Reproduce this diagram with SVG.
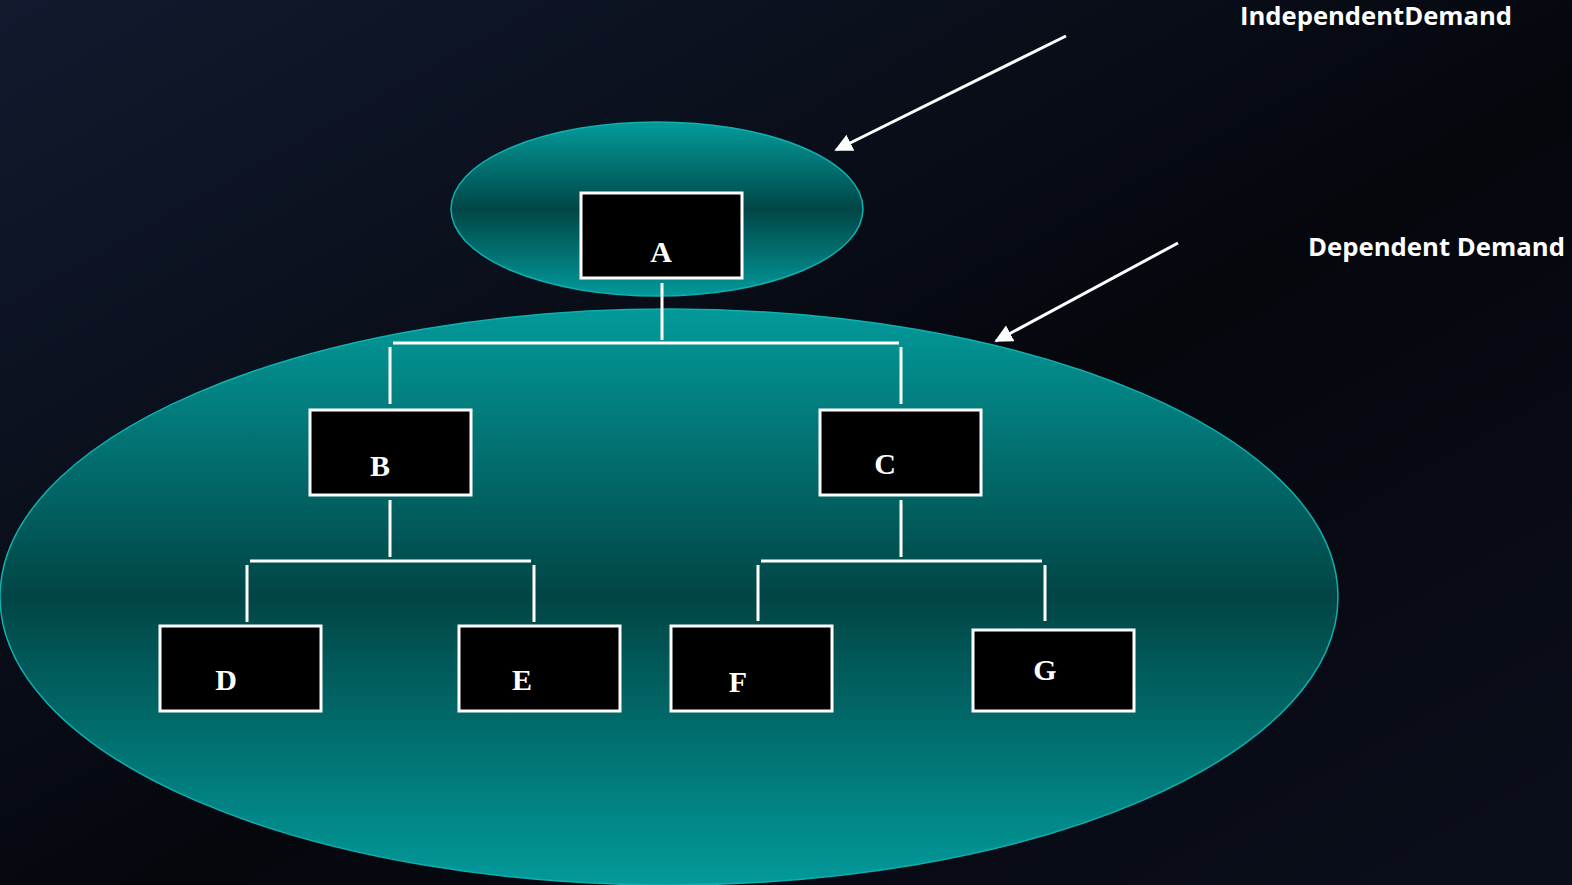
<svg xmlns="http://www.w3.org/2000/svg" width="1572" height="885" viewBox="0 0 1572 885">
<defs>
<linearGradient id="bg" x1="0" y1="0" x2="1" y2="1">
<stop offset="0" stop-color="#111a2e"/>
<stop offset="0.55" stop-color="#05070d"/>
<stop offset="1" stop-color="#0b0f1c"/>
</linearGradient>
<linearGradient id="tealS" x1="0" y1="0" x2="0" y2="1">
<stop offset="0" stop-color="#039c9c"/>
<stop offset="0.5" stop-color="#014646"/>
<stop offset="1" stop-color="#02999a"/>
</linearGradient>
<linearGradient id="tealB" x1="0" y1="0" x2="0" y2="1">
<stop offset="0" stop-color="#039a9a"/>
<stop offset="0.5" stop-color="#014545"/>
<stop offset="1" stop-color="#029a9a"/>
</linearGradient>
<marker id="ah" viewBox="0 0 10 10" refX="9" refY="5" markerWidth="6" markerHeight="6" orient="auto" markerUnits="strokeWidth">
<path d="M0,0 L10,5 L0,10 z" fill="#ffffff"/>
</marker>
<style>
.box{fill:#000000;stroke:#ffffff;stroke-width:3}
.lbl{font-family:"Liberation Serif","Times New Roman",serif;font-weight:bold;font-size:30px;fill:#ffffff;text-anchor:middle}
.con{stroke:#ffffff;stroke-width:3;fill:none}
.arr{stroke:#ffffff;stroke-width:3;fill:none;marker-end:url(#ah)}
.cap{font-family:"Open Sans","Liberation Sans",sans-serif;font-weight:bold;font-size:25px;fill:#ffffff}
</style>
</defs>
<rect x="0" y="0" width="1572" height="885" fill="url(#bg)"/>
<g id="dependent-region">
<ellipse cx="669" cy="597" rx="669" ry="288" fill="url(#tealB)" stroke="#0fb0ae" stroke-width="1.5"/>
</g>
<g id="independent-region">
<ellipse cx="657" cy="209" rx="206" ry="87" fill="url(#tealS)" stroke="#0fb0ae" stroke-width="1.5"/>
</g>
<g id="connectors">
<line class="con" x1="662" y1="283" x2="662" y2="340"/>
<line class="con" x1="393" y1="343" x2="899" y2="343"/>
<line class="con" x1="390" y1="347" x2="390" y2="404"/>
<line class="con" x1="901" y1="347" x2="901" y2="404"/>
<line class="con" x1="390" y1="500" x2="390" y2="557"/>
<line class="con" x1="250" y1="561" x2="531" y2="561"/>
<line class="con" x1="247" y1="565" x2="247" y2="622"/>
<line class="con" x1="534" y1="565" x2="534" y2="622"/>
<line class="con" x1="901" y1="500" x2="901" y2="557"/>
<line class="con" x1="761" y1="561" x2="1042" y2="561"/>
<line class="con" x1="758" y1="565" x2="758" y2="621"/>
<line class="con" x1="1045" y1="565" x2="1045" y2="621"/>
<line class="arr" x1="1066" y1="36" x2="836" y2="150"/>
<line class="arr" x1="1178" y1="243" x2="996" y2="341"/>
</g>
<g id="node-A"><rect class="box" x="581" y="193" width="161" height="85"/><text class="lbl" x="661" y="262">A</text></g>
<g id="node-B"><rect class="box" x="310" y="410" width="161" height="85"/><text class="lbl" x="380" y="476">B</text></g>
<g id="node-C"><rect class="box" x="820" y="410" width="161" height="85"/><text class="lbl" x="885" y="474">C</text></g>
<g id="node-D"><rect class="box" x="160" y="626" width="161" height="85"/><text class="lbl" x="226" y="690">D</text></g>
<g id="node-E"><rect class="box" x="459" y="626" width="161" height="85"/><text class="lbl" x="522" y="690">E</text></g>
<g id="node-F"><rect class="box" x="671" y="626" width="161" height="85"/><text class="lbl" x="738" y="692">F</text></g>
<g id="node-G"><rect class="box" x="973" y="630" width="161" height="81"/><text class="lbl" x="1045" y="680">G</text></g>
<g id="labels">
<text class="cap" x="1240" y="25" textLength="272" lengthAdjust="spacingAndGlyphs">IndependentDemand</text>
<text class="cap" x="1308" y="256" textLength="257" lengthAdjust="spacingAndGlyphs">Dependent Demand</text>
</g>
</svg>
